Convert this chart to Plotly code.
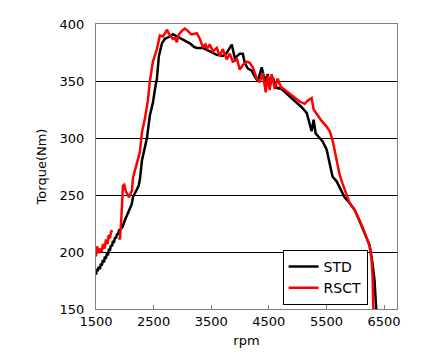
import plotly.graph_objects as go

# STD series
std_rpm = [1500, 1515, 1530, 1545, 1569, 1585, 1600, 1620, 1639, 1655, 1670, 1690, 1708, 1725, 1740, 1760,
           1777, 1795, 1810, 1830, 1847, 1865, 1880, 1900, 1916, 1960, 2003, 2040, 2089, 2120, 2141, 2180,
           2211, 2240, 2263, 2297, 2340, 2384, 2436, 2488, 2530, 2557, 2592, 2644, 2696, 2782, 2834, 2904,
           3008, 3080, 3129, 3200, 3250, 3354, 3476, 3550, 3597, 3701, 3760, 3822, 3857, 3909, 3996, 4048,
           4082, 4134, 4203, 4255, 4307, 4377, 4429, 4481, 4515, 4567, 4637, 4723, 4810, 4897, 4983, 5070,
           5157, 5209, 5243, 5278, 5313, 5382, 5434, 5503, 5555, 5607, 5677, 5746, 5815, 5902, 5989, 6060,
           6127, 6200, 6248, 6300, 6335, 6370]
std_torque = [180, 185, 183, 187, 185, 190, 188, 193, 191, 196, 194, 199, 197, 203, 201, 206,
              205, 210, 208, 213, 212, 216, 215, 219, 219, 222, 228, 232, 238, 242, 248, 252,
              254, 258, 264, 280, 290, 300, 320, 331, 345, 352, 372, 383, 387, 389, 391, 389,
              386, 384, 383, 380, 379, 379, 376, 374, 373, 372, 374, 379, 382, 370, 374, 374,
              366, 361, 359, 354, 350, 362, 350, 356, 346, 353, 344, 343, 339, 335, 331, 327,
              322, 312, 306, 316, 304, 300, 297, 290, 278, 266, 262, 255, 248, 243, 237, 229,
              220, 212, 206, 190, 175, 145]

# RSCT series (None = gap in the measured curve)
rsct_rpm = [1500, 1517, 1545, 1569, 1600, 1621, 1650, 1673, 1700, 1720, 1743, 1765, 1777, 1790,
            1900, 1916, 1940, 1968, 1990, 2020, 2072, 2100, 2124, 2141, 2180, 2211, 2263, 2297, 2349,
            2401, 2436, 2488, 2557, 2609, 2661, 2700, 2730, 2782, 2834, 2870, 2904, 2940, 2990, 3042,
            3094, 3150, 3181, 3250, 3302, 3354, 3400, 3424, 3476, 3528, 3597, 3649, 3701, 3770, 3822,
            3874, 3920, 3944, 3996, 4048, 4117, 4169, 4221, 4290, 4342, 4394, 4446, 4481, 4515, 4550,
            4602, 4654, 4706, 4758, 4810, 4914, 5035, 5122, 5180, 5243, 5278, 5347, 5417, 5503, 5555,
            5607, 5642, 5677, 5728, 5780, 5850, 5902, 5989, 6060, 6127, 6200, 6248, 6283, 6300, 6317]
rsct_torque = [196, 205, 199, 203, 200, 207, 203, 211, 207, 215, 212, 219, 217, None,
               213, 211, 230, 258, 259, 253, 248, 252, 254, 265, 272, 278, 288, 305, 317,
               333, 350, 367, 378, 390, 389, 392, 395, 390, 387, 388, 384, 391, 394, 396,
               394, 391, 391, 392, 387, 380, 382, 378, 382, 376, 379, 372, 378, 369, 374,
               367, 368, 370, 360, 364, 367, 366, 362, 352, 349, 357, 340, 355, 342, 356,
               343, 352, 345, 343, 341, 337, 332, 330, 333, 335, 325, 320, 315, 310, 306,
               298, 290, 279, 268, 260, 250, 243, 237, 230, 222, 212, 206, 194, 180, 145]

x_ticks = [1500, 2500, 3500, 4500, 5500, 6500]
y_ticks = [150, 200, 250, 300, 350, 400]

fig = go.Figure()
fig.add_trace(go.Scatter(x=std_rpm, y=std_torque, mode="lines", name="STD",
                         line=dict(color="#000000", width=2.5)))
fig.add_trace(go.Scatter(x=rsct_rpm, y=rsct_torque, mode="lines", name="RSCT",
                         line=dict(color="#FF0000", width=2.5), connectgaps=False))

font = "DejaVu Sans, Verdana, sans-serif"
fig.update_layout(
    width=432, height=356,
    margin=dict(l=88, r=43, t=9, b=55),
    paper_bgcolor="white", plot_bgcolor="white",
    font=dict(family=font, size=13, color="#000000"),
    showlegend=True,
    legend=dict(x=0.62, y=0.014, xanchor="left", yanchor="bottom",
                bgcolor="white", bordercolor="#000000", borderwidth=1,
                font=dict(size=14), tracegroupgap=0, itemwidth=30),
)
fig.update_xaxes(range=[1500, 6725], tickvals=x_ticks, ticktext=[str(v) for v in x_ticks],
                 showgrid=False, zeroline=False,
                 showline=True, linecolor="#808080", linewidth=1, mirror=True,
                 ticks="inside", ticklen=4, tickcolor="#808080",
                 title=dict(text="rpm", standoff=8, font=dict(size=13)))
fig.update_yaxes(range=[150, 400], tickvals=y_ticks, ticktext=[str(v) for v in y_ticks],
                 showgrid=True, gridcolor="#000000", gridwidth=1, zeroline=False,
                 showline=True, linecolor="#808080", linewidth=1, mirror=True,
                 ticks="", ticklabelstandoff=8,
                 title=dict(text="Torque(Nm)", standoff=10, font=dict(size=13)))

fig.write_html("out.html")
